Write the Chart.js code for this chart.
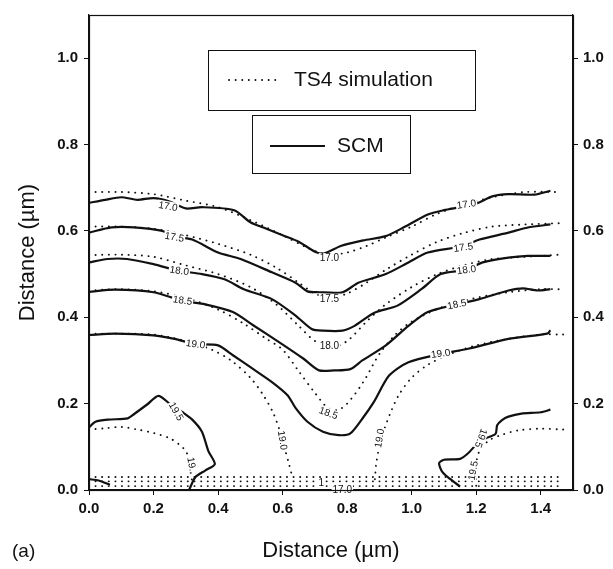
<!DOCTYPE html>
<html><head><meta charset="utf-8">
<script src="https://cdn.jsdelivr.net/npm/chart.js@4.4.1/dist/chart.umd.min.js"></script>
<style>html,body{margin:0;padding:0;background:#fff}#wrap{width:613px;height:569px;position:relative}</style>
</head><body><div id="wrap"><canvas id="c" width="613" height="569"></canvas></div>
<script>
// ---------- data (x, y in µm) ----------
const xTicks = [0.0, 0.2, 0.4, 0.6, 0.8, 1.0, 1.2, 1.4];
const yTicks = [0.0, 0.2, 0.4, 0.6, 0.8, 1.0];

// SCM (measured) contours – solid
const scm170 = [[0,0.665],[0.05,0.672],[0.1,0.678],[0.15,0.672],[0.2,0.676],[0.25,0.668],[0.3,0.652],[0.35,0.655],[0.45,0.648],[0.5,0.62],[0.55,0.605],[0.6,0.59],[0.65,0.575],[0.7,0.552],[0.73,0.548],[0.78,0.565],[0.85,0.578],[0.92,0.588],[0.98,0.61],[1.05,0.638],[1.1,0.648],[1.15,0.655],[1.2,0.663],[1.25,0.68],[1.3,0.685],[1.38,0.684],[1.43,0.693]];
const scm175 = [[0,0.596],[0.07,0.608],[0.14,0.608],[0.227,0.6],[0.26,0.588],[0.32,0.58],[0.4,0.55],[0.47,0.535],[0.567,0.504],[0.64,0.48],[0.677,0.46],[0.713,0.458],[0.786,0.458],[0.835,0.48],[0.92,0.5],[0.99,0.527],[1.05,0.55],[1.16,0.565],[1.21,0.58],[1.3,0.596],[1.36,0.608],[1.43,0.615]];
const scm180 = [[0,0.527],[0.057,0.535],[0.118,0.535],[0.2,0.523],[0.276,0.508],[0.35,0.5],[0.42,0.488],[0.48,0.465],[0.567,0.442],[0.64,0.404],[0.69,0.373],[0.725,0.369],[0.786,0.369],[0.823,0.38],[0.883,0.41],[0.956,0.427],[1.03,0.465],[1.09,0.5],[1.17,0.51],[1.22,0.527],[1.3,0.538],[1.36,0.542],[1.43,0.542]];
const scm185 = [[0,0.459],[0.08,0.464],[0.2,0.458],[0.29,0.438],[0.36,0.43],[0.446,0.412],[0.51,0.381],[0.59,0.342],[0.665,0.304],[0.713,0.277],[0.76,0.277],[0.81,0.28],[0.847,0.3],[0.92,0.335],[0.99,0.38],[1.05,0.412],[1.14,0.43],[1.21,0.442],[1.3,0.462],[1.345,0.467],[1.39,0.462],[1.43,0.465]];
const scm190 = [[0,0.359],[0.08,0.362],[0.2,0.358],[0.265,0.35],[0.33,0.338],[0.4,0.335],[0.446,0.312],[0.507,0.281],[0.567,0.25],[0.616,0.219],[0.64,0.19],[0.677,0.158],[0.725,0.135],[0.774,0.127],[0.81,0.131],[0.847,0.165],[0.883,0.204],[0.93,0.265],[0.99,0.296],[1.09,0.315],[1.175,0.327],[1.3,0.35],[1.42,0.362],[1.43,0.37]];
const scm195a = [[0,0.145],[0.02,0.158],[0.06,0.163],[0.12,0.166],[0.14,0.176],[0.18,0.198],[0.215,0.218],[0.25,0.2],[0.29,0.18],[0.32,0.163],[0.35,0.135],[0.37,0.09],[0.39,0.06],[0.36,0.045],[0.33,0.03],[0.31,0.0]];
const scm195b = [[1.15,0.008],[1.12,0.025],[1.095,0.042],[1.085,0.062],[1.1,0.07],[1.15,0.072],[1.175,0.085],[1.2,0.105],[1.23,0.12],[1.26,0.13],[1.265,0.15],[1.28,0.162],[1.3,0.17],[1.34,0.177],[1.4,0.18],[1.43,0.186]];
const scmCorner = [[0,0.025],[0.03,0.022],[0.065,0.012]];

// TS4 simulation contours – dotted
const ts170 = [[0,0.69],[0.1,0.69],[0.2,0.685],[0.3,0.67],[0.4,0.655],[0.5,0.625],[0.6,0.59],[0.68,0.56],[0.74,0.545],[0.8,0.55],[0.86,0.565],[0.92,0.585],[1.0,0.61],[1.08,0.64],[1.16,0.66],[1.25,0.678],[1.35,0.69],[1.46,0.69]];
const ts175 = [[0,0.61],[0.1,0.61],[0.2,0.605],[0.3,0.59],[0.4,0.57],[0.5,0.545],[0.58,0.515],[0.65,0.48],[0.7,0.455],[0.75,0.445],[0.8,0.455],[0.86,0.48],[0.92,0.51],[1.0,0.545],[1.08,0.575],[1.16,0.595],[1.25,0.61],[1.35,0.615],[1.46,0.618]];
const ts180 = [[0,0.544],[0.1,0.545],[0.2,0.54],[0.3,0.52],[0.4,0.5],[0.5,0.47],[0.58,0.43],[0.65,0.38],[0.7,0.345],[0.75,0.33],[0.8,0.345],[0.86,0.39],[0.92,0.43],[1.0,0.47],[1.08,0.5],[1.16,0.52],[1.25,0.535],[1.35,0.54],[1.46,0.545]];
const ts185 = [[0,0.462],[0.1,0.465],[0.2,0.46],[0.3,0.445],[0.4,0.418],[0.48,0.385],[0.55,0.35],[0.6,0.325],[0.65,0.275],[0.7,0.225],[0.74,0.19],[0.77,0.185],[0.8,0.2],[0.85,0.25],[0.9,0.315],[0.95,0.36],[1.0,0.39],[1.1,0.425],[1.2,0.445],[1.3,0.458],[1.4,0.465],[1.46,0.465]];
const ts190a = [[0,0.362],[0.1,0.362],[0.2,0.36],[0.3,0.345],[0.38,0.325],[0.44,0.3],[0.5,0.26],[0.54,0.22],[0.57,0.18],[0.59,0.14],[0.605,0.1],[0.62,0.06],[0.63,0.03]];
const ts190b = [[0.886,0.025],[0.89,0.06],[0.9,0.1],[0.915,0.14],[0.935,0.18],[0.96,0.22],[1.0,0.26],[1.05,0.29],[1.12,0.315],[1.2,0.335],[1.3,0.35],[1.4,0.36],[1.47,0.36]];
const ts195a = [[0,0.14],[0.05,0.143],[0.1,0.146],[0.15,0.14],[0.2,0.132],[0.25,0.12],[0.28,0.105],[0.3,0.09],[0.31,0.07],[0.315,0.04],[0.32,0.02]];
const ts195b = [[1.2,0.01],[1.2,0.03],[1.2,0.06],[1.21,0.09],[1.24,0.115],[1.28,0.128],[1.33,0.138],[1.4,0.142],[1.47,0.14]];
const tsSurf1 = [[0,0.03],[1.46,0.03]];
const tsSurf2 = [[0,0.02],[1.46,0.02]];
const tsSurf3 = [[0,0.009],[1.46,0.009]];

// contour value labels: text, x, y, angle(deg)
const contourLabels = [
  ["17.0",0.245,0.657,10],["17.0",1.17,0.662,-8],["17.0",0.745,0.537,0],
  ["17.5",0.265,0.586,10],["17.5",1.16,0.562,-8],["17.5",0.745,0.443,0],
  ["18.0",0.28,0.508,8],["18.0",1.17,0.51,-8],["18.0",0.745,0.333,0],
  ["18.5",0.29,0.439,8],["18.5",1.14,0.43,-12],["18.5",0.742,0.178,20],
  ["19.0",0.33,0.338,8],["19.0",1.09,0.316,-8],["19.0",0.6,0.115,80],["19.0",0.9,0.12,-80],
  ["19.5",0.27,0.182,60],["19.",0.318,0.06,80],["19.5",1.19,0.045,-80],["19.5",1.215,0.12,110],
  ["17.0",0.785,0.0,0],["1",0.72,0.016,0]
];
const legendItems = ["TS4 simulation","SCM"];

// ---------- chart ----------
const FONT = "'Liberation Sans', Arial, Helvetica, sans-serif";
const DOTS = [0.1, 6.5];
const pts = a => a.map(p => ({x:p[0], y:p[1]}));
const solid = (arr) => ({data: pts(arr), showLine:true, borderColor:'#111', borderWidth:2.2, pointRadius:0, tension:0.25, fill:false});
const dotted = (arr) => ({data: pts(arr), showLine:true, borderColor:'#111', borderWidth:1.9, borderDash:DOTS, borderCapStyle:'round', pointRadius:0, tension:0.3, fill:false});

const datasets = [
  ...[ts170,ts175,ts180,ts185,ts190a,ts190b,ts195a,ts195b,tsSurf1,tsSurf2,tsSurf3].map(dotted),
  ...[scm170,scm175,scm180,scm185,scm190,scm195a,scm195b,scmCorner].map(solid)
];

const keepTicks = (list) => (scale) => { scale.ticks = list.map(v => ({value:v})); };

const decor = {
  id:'decor',
  afterDatasetsDraw(chart){
    const {ctx, chartArea:a, scales:{x, y}} = chart;
    ctx.save();
    ctx.font = "10px " + FONT;
    ctx.textAlign='center'; ctx.textBaseline='middle';
    contourLabels.forEach(([t,lx,ly,ang])=>{
      const px = x.getPixelForValue(lx), py = y.getPixelForValue(ly);
      ctx.save(); ctx.translate(px,py); ctx.rotate(ang*Math.PI/180);
      const w = ctx.measureText(t).width;
      ctx.fillStyle='#fff'; ctx.fillRect(-w/2-1,-5,w+2,10);
      ctx.fillStyle='#111'; ctx.fillText(t,0,0.5);
      ctx.restore();
    });
    ctx.strokeStyle='#111'; ctx.lineWidth=1.2;
    ctx.strokeRect(a.left+0.5, a.top+0.5, a.right-a.left, a.bottom-a.top);
    ctx.lineWidth=1;
    ctx.fillStyle='#fff';
    ctx.fillRect(208,50,267,60); ctx.strokeRect(208.5,50.5,267,60);
    ctx.fillRect(252,115,158,58); ctx.strokeRect(252.5,115.5,158,58);
    ctx.font = "21px " + FONT; ctx.textAlign='left'; ctx.fillStyle='#111';
    ctx.fillText(legendItems[0], 294, 80);
    ctx.fillText(legendItems[1], 337, 146);
    ctx.setLineDash(DOTS); ctx.lineCap='round'; ctx.lineWidth=1.9;
    ctx.beginPath(); ctx.moveTo(229,80); ctx.lineTo(280,80); ctx.stroke();
    ctx.setLineDash([]); ctx.lineCap='butt'; ctx.lineWidth=2.2;
    ctx.beginPath(); ctx.moveTo(270,146); ctx.lineTo(325,146); ctx.stroke();
    ctx.font = "19px " + FONT; ctx.textAlign='left';
    ctx.fillText("(a)", 12, 552);
    ctx.restore();
  }
};

const tickFont = {family:FONT, size:15, weight:'bold'};
const titleFont = {family:FONT, size:22};
const gridOpts = {display:true, drawOnChartArea:false, drawTicks:true, tickLength:5, color:'#111', tickWidth:1};

new Chart(document.getElementById('c'), {
  type:'scatter',
  data:{datasets},
  plugins:[decor],
  options:{
    responsive:false, animation:false, devicePixelRatio:1,
    layout:{padding:{top:13, right:0, left:0, bottom:0}},
    plugins:{legend:{display:false}, tooltip:{enabled:false}},
    scales:{
      x:{type:'linear', position:'bottom', min:0, max:1.5,
         afterBuildTicks: keepTicks(xTicks),
         afterFit(s){ s.height = 79; },
         ticks:{font:tickFont, color:'#111', padding:5, maxRotation:0, callback:v=>v.toFixed(1)},
         grid:gridOpts, border:{display:true, color:'#111', width:1.2},
         title:{display:true, text:'Distance (µm)', font:titleFont, color:'#111', padding:{top:0,bottom:5}}},
      y:{type:'linear', position:'left', min:0, max:1.1,
         afterBuildTicks: keepTicks(yTicks),
         afterFit(s){ s.width = 89; },
         ticks:{font:tickFont, color:'#111', padding:6, callback:v=>v.toFixed(1)},
         grid:gridOpts, border:{display:true, color:'#111', width:1.2},
         title:{display:true, text:'Distance (µm)', font:titleFont, color:'#111', padding:{top:15,bottom:0}}},
      y2:{type:'linear', position:'right', min:0, max:1.1,
         afterBuildTicks: keepTicks(yTicks),
         afterFit(s){ s.width = 40; },
         ticks:{font:tickFont, color:'#111', padding:5, callback:v=>v.toFixed(1)},
         grid:gridOpts, border:{display:true, color:'#111', width:1.2}}
    }
  }
});
</script></body></html>
